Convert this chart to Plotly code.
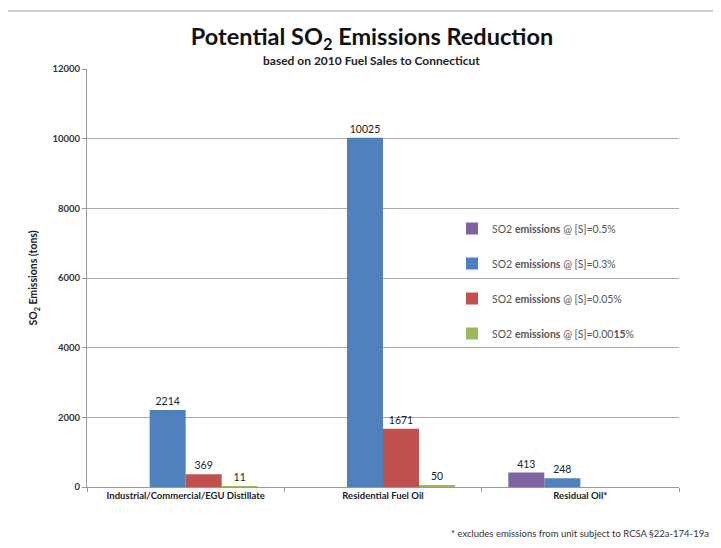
import plotly.graph_objects as go

categories = ["Industrial/Commercial/EGU Distillate", "Residential Fuel Oil", "Residual Oil*"]
series_names = [
    "SO2 <b>emissions</b> @ [S]=0.5%",
    "SO2 <b>emissions</b> @ [S]=0.3%",
    "SO2 <b>emissions</b> @ [S]=0.05%",
    "SO2 <b>emissions</b> @ [S]=0.00<b>15</b>%",
]
s_05 = [None, None, 413]
s_03 = [2214, 10025, 248]
s_005 = [369, 1671, None]
s_00015 = [11, 50, None]
series_values = [s_05, s_03, s_005, s_00015]
colors = ["#8064A2", "#4F81BD", "#C0504D", "#9BBB59"]
y_ticks = [0, 2000, 4000, 6000, 8000, 10000, 12000]

# page offset (body margin) compensation
OFF = 8
W, H = 721 - OFF, 548 - OFF
PL, PR, PT, PB = 87, 679, 69, 487   # plot area in page pixels
L, T = PL - OFF, PT - OFF
R, B = W - (PR - OFF), H - (PB - OFF)
pw, ph = PR - PL, PB - PT

fig = go.Figure()
for i, (name, vals, col) in enumerate(zip(series_names, series_values, colors)):
    fig.add_trace(go.Bar(
        x=categories, y=vals, name=name, marker_color=col,
        marker_line_width=0,
        text=[("" if v is None else str(v)) for v in vals],
        textposition="outside", cliponaxis=False,
        textfont=dict(family="Lato", size=10.5, color="#222"),
        legendgroup=f"g{i}",
    ))

def px_x(px):
    return (px - PL) / pw

def px_y(py):
    return (PB - py) / ph

fig.update_layout(
    width=W, height=H,
    margin=dict(l=L, r=R, t=T, b=B, autoexpand=False),
    paper_bgcolor="white", plot_bgcolor="white",
    barmode="group", bargap=0.27, bargroupgap=0,
    font=dict(family="Lato", color="#222"),
    title=dict(
        text="Potential SO<sub>2</sub> Emissions Reduction",
        x=(372 - OFF) / W, xanchor="center", y=1 - (37 - OFF) / H, yanchor="middle",
        font=dict(family="Lato", size=23.5, color="#111", weight="bold"),
    ),
    showlegend=True,
    legend=dict(
        x=px_x(452), y=px_y(214), xanchor="left", yanchor="top",
        bgcolor="rgba(0,0,0,0)", traceorder="grouped", tracegroupgap=16,
        font=dict(family="Lato", size=10.5, color="#555"),
    ),
    xaxis=dict(
        type="category", tickson="boundaries", ticks="outside", ticklen=4,
        tickcolor="#999", showline=True, linecolor="#999", linewidth=1,
        showgrid=False,
        tickfont=dict(family="Lato", size=9.5, color="#222", weight="bold"),
    ),
    yaxis=dict(
        range=[0, 12000], tickvals=y_ticks, ticktext=[str(v) for v in y_ticks],
        ticks="outside", ticklen=4, tickcolor="#999",
        showline=True, linecolor="#999", linewidth=1,
        showgrid=True, gridcolor="#aaaaaa", gridwidth=1, zeroline=False,
        tickfont=dict(family="Lato", size=9.5, color="#333", weight="bold"),
        title=dict(text="<b>SO<sub>2</sub> Emissions (tons)</b>",
                   font=dict(family="Lato", size=10.5, color="#222"), standoff=12),
    ),
    annotations=[
        dict(text="<b>based on 2010 Fuel Sales to Connecticut</b>",
             x=px_x(371), y=px_y(60), xref="paper", yref="paper",
             xanchor="center", yanchor="middle", showarrow=False,
             font=dict(family="Lato", size=12, color="#222")),
        dict(text="* excludes emissions from unit subject to RCSA §22a-174-19a",
             x=px_x(711), y=px_y(533), xref="paper", yref="paper",
             xanchor="right", yanchor="middle", showarrow=False,
             font=dict(family="Lato", size=9.5, color="#333")),
    ],
    shapes=[
        dict(type="rect", xref="paper", yref="paper",
             x0=px_x(7), x1=px_x(730), y0=px_y(560), y1=px_y(11),
             line=dict(color="#d0d0d0", width=2), fillcolor="rgba(0,0,0,0)",
             layer="below"),
    ],
)

fig.write_html("out.html")
